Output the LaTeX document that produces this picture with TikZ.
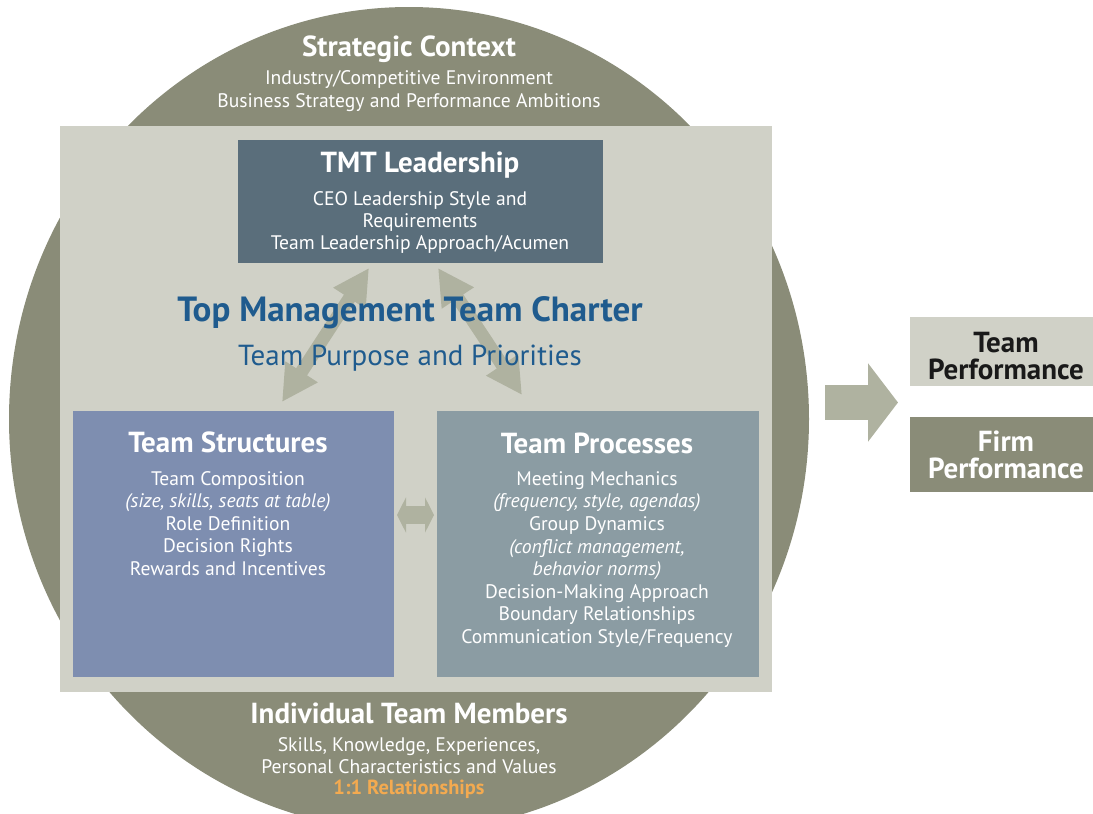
\documentclass[tikz,border=0pt]{standalone}
\usepackage{fontspec}
\setmainfont{PT Sans}
\usetikzlibrary{arrows.meta}

\definecolor{ctxgray}{HTML}{8A8C78}
\definecolor{charterbg}{HTML}{D0D1C7}
\definecolor{tmtblue}{HTML}{5A6E7B}
\definecolor{structblue}{HTML}{7E8EB0}
\definecolor{procgray}{HTML}{8B9CA3}
\definecolor{arrowgray}{HTML}{AFB2A0}
\definecolor{charterblue}{HTML}{1F5B8E}
\definecolor{relorange}{HTML}{F3AA50}

\begin{document}
\begin{tikzpicture}[x=1pt,y=-1pt,
  panel/.style={inner sep=0pt,outer sep=0pt,anchor=north west},
  ttl/.style={anchor=base,inner sep=0pt,text=white,font=\bfseries\fontsize{29}{34}\selectfont},
  txt/.style={anchor=base,inner sep=0pt,text=white,font=\fontsize{19.6}{24}\selectfont},
  twoway/.style={arrowgray,line width=13pt,{Triangle[length=36pt,width=36pt]}-{Triangle[length=36pt,width=36pt]}}]
\useasboundingbox (0,0) rectangle (1093,814);

% strategic context ring
\fill[ctxgray] (409,419) ellipse [x radius=400,y radius=412];
\node[panel,fill=charterbg,minimum width=712pt,minimum height=566pt] (charter) at (60,126) {};
\node[panel,fill=tmtblue,minimum width=365pt,minimum height=123pt] (tmt) at (238,140) {};
\node[panel,fill=structblue,minimum width=321pt,minimum height=266pt] (struct) at (73,411) {};
\node[panel,fill=procgray,minimum width=322pt,minimum height=266pt] (proc) at (437,411) {};

% arrows between blocks
\coordinate (lup) at (369,268);
\coordinate (ldn) at (282,402);
\coordinate (rup) at (438,268);
\coordinate (rdn) at (522,395);
\coordinate (mlt) at (397,515);
\coordinate (mrt) at (434,515);
\draw[twoway] (ldn) -- (lup);
\draw[twoway] (rdn) -- (rup);
\draw[arrowgray,line width=18pt,{Triangle[length=9pt,width=35pt]}-{Triangle[length=9pt,width=35pt]}] (mlt) -- (mrt);

\node[ttl] (ctx) at (409,56) {Strategic Context};
\node[txt] (ctx1) at (409,84) {Industry/Competitive Environment};
\node[txt] (ctx2) at (409,107) {Business Strategy and Performance Ambitions};

% TMT leadership
\node[ttl] (tmt0) at (420,172) {TMT Leadership};
\node[txt] (tmt1) at (420,205) {CEO Leadership Style and};
\node[txt] (tmt2) at (420,227) {Requirements};
\node[txt] (tmt3) at (420,249) {Team Leadership Approach/Acumen};

\node[anchor=base,inner sep=0pt,text=charterblue,font=\bfseries\fontsize{35}{40}\selectfont] (chr0) at (410,321) {Top Management Team Charter};
\node[anchor=base,inner sep=0pt,text=charterblue,font=\fontsize{29}{34}\selectfont] (chr1) at (410,365) {Team Purpose and Priorities};

% structures
\node[ttl] (ts0) at (228,452) {Team Structures};
\node[txt] (ts1) at (228,485) {Team Composition};
\node[txt] (ts2) at (228,507) {\itshape (size, skills, seats at table)};
\node[txt] (ts3) at (228,530) {Role Definition};
\node[txt] (ts4) at (228,552) {Decision Rights};
\node[txt] (ts5) at (228,575) {Rewards and Incentives};

% processes
\node[ttl] (tp0) at (597,453) {Team Processes};
\node[txt] (tp1) at (597,485) {Meeting Mechanics};
\node[txt] (tp2) at (597,507) {\itshape (frequency, style, agendas)};
\node[txt] (tp3) at (597,530) {Group Dynamics};
\node[txt] (tp4) at (597,553) {\itshape (conflict management,};
\node[txt] (tp5) at (597,575) {\itshape behavior norms)};
\node[txt] (tp6) at (597,598) {Decision-Making Approach};
\node[txt] (tp7) at (597,620) {Boundary Relationships};
\node[txt] (tp8) at (597,643) {Communication Style/Frequency};

% individuals
\node[ttl] (ind0) at (409,723) {Individual Team Members};
\node[txt] (ind1) at (409,751) {Skills, Knowledge, Experiences,};
\node[txt] (ind2) at (409,773) {Personal Characteristics and Values};
\node[txt,text=relorange,font=\bfseries\fontsize{20.4}{24}\selectfont] (ind3) at (409,794) {1:1 Relationships};

% outcomes
\node[panel,fill=charterbg,minimum width=183pt,minimum height=69pt] (teamperf) at (910,317) {};
\node[panel,fill=ctxgray,minimum width=183pt,minimum height=75pt] (firmperf) at (910,417) {};
\node[ttl,text=black!90] (tpf0) at (1006,352) {Team};
\node[ttl,text=black!90] (tpf1) at (1006,379) {Performance};
\node[ttl] (fpf0) at (1006,451) {Firm};
\node[ttl] (fpf1) at (1006,478) {Performance};
\coordinate (outl) at (825,402.5);
\coordinate (outr) at (898,402.5);
\draw[arrowgray,line width=35pt,-{Triangle[length=30pt,width=77pt]}] (outl) -- (outr);
\end{tikzpicture}
\end{document}
